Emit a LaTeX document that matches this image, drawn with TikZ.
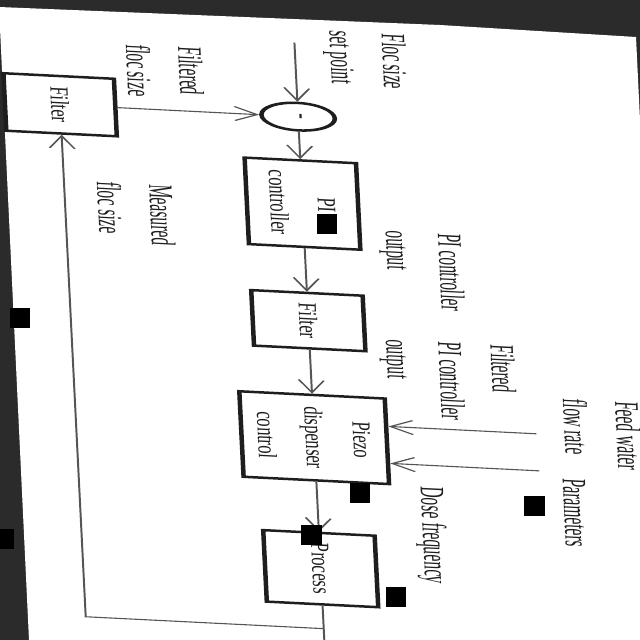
\documentclass[tikz,border=0pt]{standalone}
\usepackage{fontspec}
\setmainfont{Liberation Serif}
\newfontfamily\blkfont[FakeStretch=1.14]{Liberation Serif}
\newfontfamily\lblfont[FakeStretch=0.81]{Liberation Serif}
\usetikzlibrary{arrows.meta,shapes.geometric}
\definecolor{scanbg}{HTML}{2B2B2B}
\definecolor{wire}{HTML}{555555}
\definecolor{ink}{HTML}{1E1E1E}

\begin{document}
\begin{tikzpicture}[x=1pt,y=-1pt,>={Straight Barb[length=12.5pt,width=14pt]},
blk/.style={draw=ink,line width=2.5pt,inner sep=0pt,align=center,text=ink,font={\blkfont\fontsize{14.5}{26.5}\selectfont}},
sumnode/.style={ellipse,draw=ink,line width=2.5pt,inner sep=0pt,minimum width=27.5pt,minimum height=40.8pt,text=ink,font={\blkfont\fontsize{14.5}{16}\selectfont\bfseries}},
lbl/.style={anchor=west,align=left,inner sep=0pt,text=ink,font={\lblfont\fontsize{19}{29}\selectfont}},
conn/.style={draw=wire,line width=1.1pt},
blot/.style={fill=black}]
\useasboundingbox (0,0) rectangle (640,640);
\fill[scanbg] (0,0) rectangle (640,640);
\fill[white] (-1,7) -- (440,25) -- (636,37) -- (665,640) -- (29,640) -- cycle;

\begin{scope}[x=1pt,y=0.5556pt,transform canvas={cm={0.05,-1,1.8,-0.09,(0,0)}}]
\node[sumnode] (sum) at (102,293) {-};
\node[blk,minimum width=57.5pt,minimum height=61.4pt] (flt1) at (102,55) {Filter};
\node[blk,minimum width=86.5pt,minimum height=61.9pt] (pi) at (189,293) {PI\\controller};
\node[blk,minimum width=55.5pt,minimum height=61.9pt] (flt2) at (306,293) {Filter};
\node[blk,minimum width=85.5pt,minimum height=80.8pt] (piezo) at (423,293) {Piezo\\dispenser\\control};
\node[blk,minimum width=71.5pt,minimum height=61.9pt] (proc) at (554,293) {Process};

\coordinate (sp) at (28,293);
\coordinate (out) at (660,293);
\coordinate (br) at (614,293);
\coordinate (fb) at (614,55);
\coordinate (fw) at (408,516);
\coordinate (par) at (445,517);

\draw[conn,->] (sp) -- (sum);
\draw[conn,->] (sum) -- (pi);
\draw[conn,->] (pi) -- (flt2);
\draw[conn,->] (flt2) -- (piezo);
\draw[conn,->] (piezo) -- (proc);
\draw[conn] (proc) -- (out);
\draw[conn,->] (br) -- (fb) -- (flt1);
\draw[conn,->] (flt1) -- (sum);
\draw[conn,->] (fw) -- (fw |- piezo.north);
\draw[conn,->] (par) -- (par |- piezo.north);

\node[lbl] (spl) at (14.3,362.9) {Floc size\\set point};
\node[lbl] (ffl) at (37.8,161.7) {Filtered\\floc size};
\node[lbl] (mfl) at (176.8,125.8) {Measured\\floc size};
\node[lbl] (pio) at (211.5,409.4) {PI controller\\output};
\node[lbl] (fpo) at (320.6,430.3) {Filtered\\PI controller\\output};
\node[lbl] (fwl) at (371.4,582) {Feed water\\flow rate};
\node[lbl] (parl) at (451.1,551) {Parameters};
\node[lbl] (dfl) at (466.5,405.6) {Dose frequency};
\end{scope}

\fill[blot] (317,214) rectangle (337,234);
\fill[blot] (350,483) rectangle (370,503);
\fill[blot] (524,496) rectangle (545,516);
\fill[blot] (301,525) rectangle (322,545);
\fill[blot] (386,587) rectangle (406,607);
\fill[blot] (10,308) rectangle (30,328);
\fill[blot] (0,529) rectangle (14,549);
\end{tikzpicture}
\end{document}
